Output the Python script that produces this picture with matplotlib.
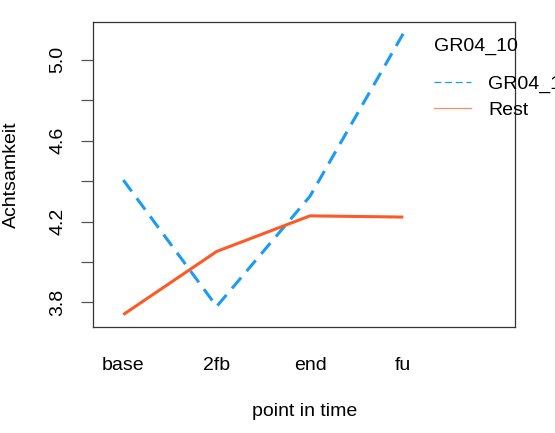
import matplotlib
matplotlib.use("Agg")
import matplotlib.pyplot as plt
from matplotlib.lines import Line2D

plt.rcParams['font.family'] = ['Liberation Sans', 'DejaVu Sans']
plt.rcParams['font.size'] = 14

times = ['base', '2fb', 'end', 'fu']
group_name = 'GR04_10'
groups = ['GR04_10', 'Rest']
gr04 = [4.405, 3.78, 4.325, 5.13]
rest = [3.74, 4.052, 4.228, 4.222]

blue = '#1C9BF2'
orange = '#FC5A27'

fig = plt.figure(figsize=(5.55, 4.33), dpi=100)
ax = fig.add_axes([0.1681, 0.2455, 0.928 - 0.1681, 0.9499 - 0.2455])

x = range(1, len(times) + 1)
ax.plot(x, gr04, color=blue, lw=2.2, linestyle=(0, (4.6, 2.8)), dash_capstyle='butt')
ax.plot(x, rest, color=orange, lw=2.2, solid_capstyle='butt')

ax.set_xlim(0.678, 5.197)
ax.set_ylim(3.68, 5.188)

ax.set_xticks(list(x))
ax.set_xticklabels(times)
ax.tick_params(axis='x', length=0, pad=22)

yt = [3.8, 4.0, 4.2, 4.4, 4.6, 4.8, 5.0]
ax.set_yticks(yt)
ax.set_yticklabels([f'{v:.1f}' if i % 2 == 0 else '' for i, v in enumerate(yt)])
ax.tick_params(axis='y', length=8.6, width=0.9, color='#555555', pad=11, labelrotation=90)
for lab in ax.get_yticklabels():
    lab.set_va('center')

for s in ax.spines.values():
    s.set_color('#333333')
    s.set_linewidth(0.9)

ax.set_xlabel('point in time')
ax.xaxis.set_label_coords(0.5, -0.279)
ax.xaxis.label.set_va('center')
ax.set_ylabel('Achtsamkeit')
ax.yaxis.set_label_coords(-0.195, 0.5)
ax.yaxis.label.set_va('center')

# legend sits at the right edge like R's interaction.plot, label runs off the page
handles = [Line2D([], [], color=blue, lw=0.9, linestyle=(0, (5.5, 3))),
           Line2D([], [], color=orange, lw=0.9, alpha=0.7)]
leg = ax.legend(handles, groups, title=group_name, loc='upper left',
                bbox_to_anchor=(0.745, 0.960), bbox_transform=fig.transFigure,
                frameon=False, borderpad=1.05, borderaxespad=0, handlelength=1.9,
                handletextpad=0.9, labelspacing=0.41, alignment='left')
leg.get_title().set_fontsize(14)
leg._legend_box.sep = 14.9  # bigger gap between title and entries

fig.savefig('out.png', dpi=100)
